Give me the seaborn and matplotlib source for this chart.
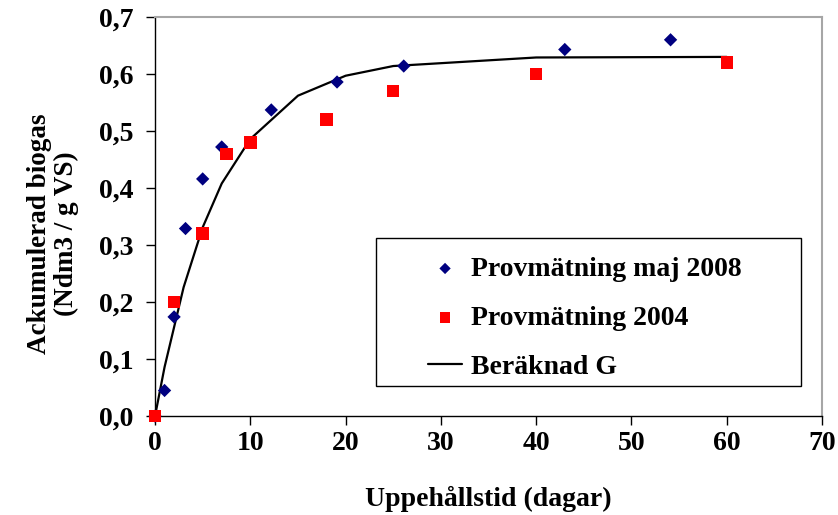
import numpy as np
import pandas as pd
import matplotlib
matplotlib.use("Agg")
import matplotlib.pyplot as plt
from matplotlib.patches import Rectangle
import seaborn as sns

# ---- data ----
x_2008 = [0, 1, 2, 3.2, 5, 7, 12.2, 19.1, 26.1, 43, 54.1]
y_2008 = [0.0, 0.045, 0.174, 0.329, 0.416, 0.472, 0.537, 0.586, 0.614, 0.643, 0.66]

x_2004 = [0, 2, 5, 7.5, 10, 18, 25, 40, 60]
y_2004 = [0.0, 0.2, 0.32, 0.46, 0.48, 0.52, 0.57, 0.60, 0.62]

x_calc = [0, 1, 3, 5, 7, 10, 15, 20, 25, 40, 60]
y_calc = [0.0, 0.086, 0.226, 0.331, 0.408, 0.486, 0.562, 0.597, 0.614, 0.629, 0.630]

x_ticks = [0, 10, 20, 30, 40, 50, 60, 70]
y_ticks = [0.0, 0.1, 0.2, 0.3, 0.4, 0.5, 0.6, 0.7]
y_ticklabels = ["0,0", "0,1", "0,2", "0,3", "0,4", "0,5", "0,6", "0,7"]

label_2008 = "Provmätning maj 2008"
label_2004 = "Provmätning 2004"
label_calc = "Beräknad G"

sns.set_style("ticks")
plt.rcParams["font.family"] = ["Liberation Serif", "DejaVu Serif"]
plt.rcParams["font.weight"] = "bold"
plt.rcParams["text.color"] = "black"
plt.rcParams["axes.labelcolor"] = "black"
plt.rcParams["xtick.color"] = "black"
plt.rcParams["ytick.color"] = "black"

fig = plt.figure(figsize=(8.38, 5.15), dpi=100)
ax = fig.add_axes([0.185, 0.192, 0.796, 0.775])

df08 = pd.DataFrame({"x": x_2008, "y": y_2008})
df04 = pd.DataFrame({"x": x_2004, "y": y_2004})
dfc = pd.DataFrame({"x": x_calc, "y": y_calc})

sns.lineplot(data=dfc, x="x", y="y", ax=ax, color="black", linewidth=1.6,
             label=label_calc, zorder=2)
sns.scatterplot(data=df08, x="x", y="y", ax=ax, marker="D", s=46,
                color="#000080", edgecolor="none", label=label_2008, zorder=3)
sns.scatterplot(data=df04, x="x", y="y", ax=ax, marker="s", s=80,
                color="#FF0000", edgecolor="none", label=label_2004, zorder=4)

ax.set_xlim(0, 70)
ax.set_ylim(0, 0.7)
ax.set_xticks(x_ticks)
ax.set_xticklabels([str(t) for t in x_ticks])
ax.set_yticks(y_ticks)
ax.set_yticklabels(y_ticklabels)
for coll in ax.collections:
    coll.set_clip_on(False)
for ln in ax.lines:
    ln.set_clip_on(False)

ax.tick_params(axis="both", direction="out", length=6.5, width=1, color="black",
               labelsize=20, labelcolor="black")
ax.tick_params(axis="y", pad=9)
ax.tick_params(axis="x", pad=4)
for lab in ax.get_xticklabels() + ax.get_yticklabels():
    lab.set_fontweight("bold")

ax.set_xlabel("Uppehållstid (dagar)", fontsize=20, fontweight="bold", labelpad=22,
              color="black")
ax.set_ylabel("Ackumulerad biogas\n(Ndm3 / g VS)", fontsize=19.5, fontweight="bold",
              linespacing=1.1, color="black")
ax.yaxis.set_label_coords(-0.1145, 0.456)

for side in ["left", "bottom"]:
    ax.spines[side].set_color("black")
    ax.spines[side].set_linewidth(1.0)
for side in ["top", "right"]:
    ax.spines[side].set_visible(True)
    ax.spines[side].set_color("#a6a6a6")
    ax.spines[side].set_linewidth(1.5)

# legend box
x0 = (376 - 155) / 667
x1 = (801 - 155) / 667
y0 = (416 - 386) / 399
y1 = (416 - 238) / 399
ax.add_patch(Rectangle((x0, y0), x1 - x0, y1 - y0, transform=ax.transAxes,
                       facecolor="white", edgecolor="black", linewidth=1.0, zorder=5))

handles, labels = ax.get_legend_handles_labels()
order = [labels.index(label_2008), labels.index(label_2004), labels.index(label_calc)]
leg = ax.legend([handles[i] for i in order], [labels[i] for i in order],
                loc="center", bbox_to_anchor=((x0 + x1) / 2 - 0.005, (y0 + y1) / 2 - 0.015),
                frameon=False, handlelength=1.2, handletextpad=0.35,
                labelspacing=0.85, borderpad=0.2, markerscale=0.85,
                prop={"weight": "bold", "size": 20})
for t in leg.get_texts():
    t.set_color("black")
leg.set_zorder(6)

fig.savefig("out.png", dpi=100)
